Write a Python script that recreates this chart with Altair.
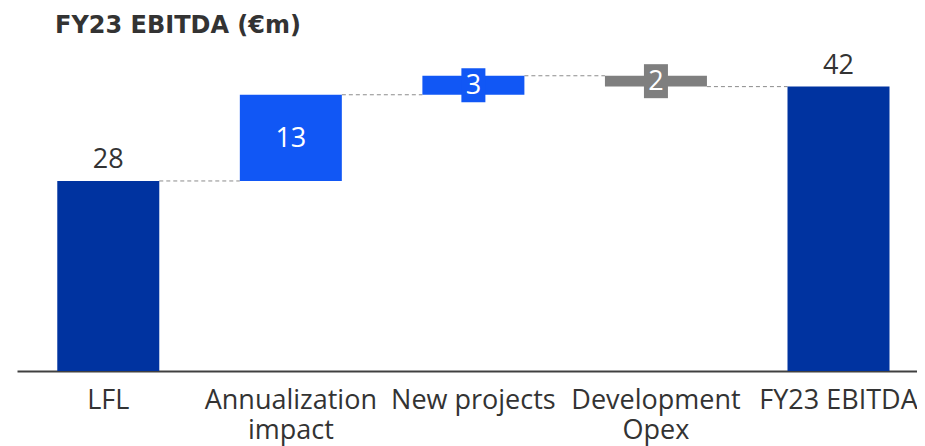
import altair as alt
import pandas as pd

# ---- data ----
title_text = ["FY23 EBITDA (€m)"]
categories = ["LFL", "Annualization\nimpact", "New projects", "Development\nOpex", "FY23 EBITDA"]
kinds = ["total", "increase", "increase", "decrease", "total"]
values = [28.0, 12.7, 2.8, -1.6, 41.9]
labels = ["28", "13", "3", "2", "42"]

# ---- build waterfall table ----
rows = []
cum = 0.0
for i, (c, k, v, lab) in enumerate(zip(categories, kinds, values, labels)):
    if k == "total":
        start, end = 0.0, v
        cum = v
    else:
        start, end = cum, cum + v
        cum = end
    rows.append(dict(idx=i, cat=c, kind=k, start=start, end=end,
                     mid=(start + end) / 2, label=lab,
                     pos="above" if k == "total" else "inside",
                     boxed=(k != "total" and abs(v) < 5)))
df = pd.DataFrame(rows)

conn = pd.DataFrame(dict(
    idx=[r["idx"] for r in rows[:-1]],
    nxt=[r["idx"] + 1 for r in rows[:-1]],
    level=[r["end"] for r in rows[:-1]],
))

FONT = "Open Sans"
W, H = 900, 300

xscale = alt.Scale(domain=[-0.5, 4.43], nice=False, zero=False, padding=0)
yscale = alt.Scale(domain=[0, 44.2], nice=False, zero=True)
cscale = alt.Scale(domain=["total", "increase", "decrease"],
                   range=["#0033A0", "#1157F5", "#7F7F7F"])

X = alt.X("idx:Q", scale=xscale,
          axis=alt.Axis(labels=False, ticks=False, grid=False, title=None,
                        domainColor="#404040", domainWidth=2))

connectors = alt.Chart(conn).mark_rule(
    strokeDash=[4, 3], color="#8C8C8C", strokeWidth=1, xOffset=51, x2Offset=-51
).encode(
    x=alt.X("idx:Q", scale=xscale), x2="nxt:Q",
    y=alt.Y("level:Q", scale=yscale, axis=None),
)

bars = alt.Chart(df).mark_bar(size=102).encode(
    x=X,
    y=alt.Y("start:Q", scale=yscale, axis=None),
    y2="end:Q",
    color=alt.Color("kind:N", scale=cscale, legend=None),
)

boxes = alt.Chart(df).transform_filter("datum.boxed").mark_point(
    shape="M-0.706,-1H0.706V1H-0.706Z", filled=True, opacity=1, size=1156, strokeWidth=0
).encode(
    x=alt.X("idx:Q", scale=xscale),
    y=alt.Y("mid:Q", scale=yscale, axis=None),
    color=alt.Color("kind:N", scale=cscale, legend=None),
)

above = alt.Chart(df).transform_filter("datum.pos == 'above'").mark_text(
    font=FONT, fontSize=27, color="#333333", baseline="alphabetic", dy=-13
).encode(
    x=alt.X("idx:Q", scale=xscale),
    y=alt.Y("end:Q", scale=yscale, axis=None),
    text="label:N",
)

inside = alt.Chart(df).transform_filter("datum.pos == 'inside'").mark_text(
    font=FONT, fontSize=27, color="white", baseline="middle", dy=1
).encode(
    x=alt.X("idx:Q", scale=xscale),
    y=alt.Y("mid:Q", scale=yscale, axis=None),
    text="label:N",
)

catlabels = alt.Chart(df).mark_text(
    font=FONT, fontSize=27, color="#333333", baseline="alphabetic",
    lineBreak="\n", lineHeight=30
).encode(
    x=alt.X("idx:Q", scale=xscale),
    y=alt.value(H + 38),
    text="cat:N",
)

title = alt.Chart(pd.DataFrame({"t": title_text})).mark_text(
    font="DejaVu Sans", fontSize=24, fontWeight="bold", color="#333333",
    align="left", baseline="alphabetic"
).encode(x=alt.value(38), y=alt.value(-38), text="t:N")

chart = alt.layer(connectors, bars, boxes, above, inside, catlabels, title).properties(
    width=W, height=H,
    autosize=alt.AutoSizeParams(type="none"),
    padding={"left": 9, "top": 63, "right": 0, "bottom": 78},
).configure_view(stroke=None)

chart.save("out.html", embed_options={"renderer": "svg", "actions": False})
